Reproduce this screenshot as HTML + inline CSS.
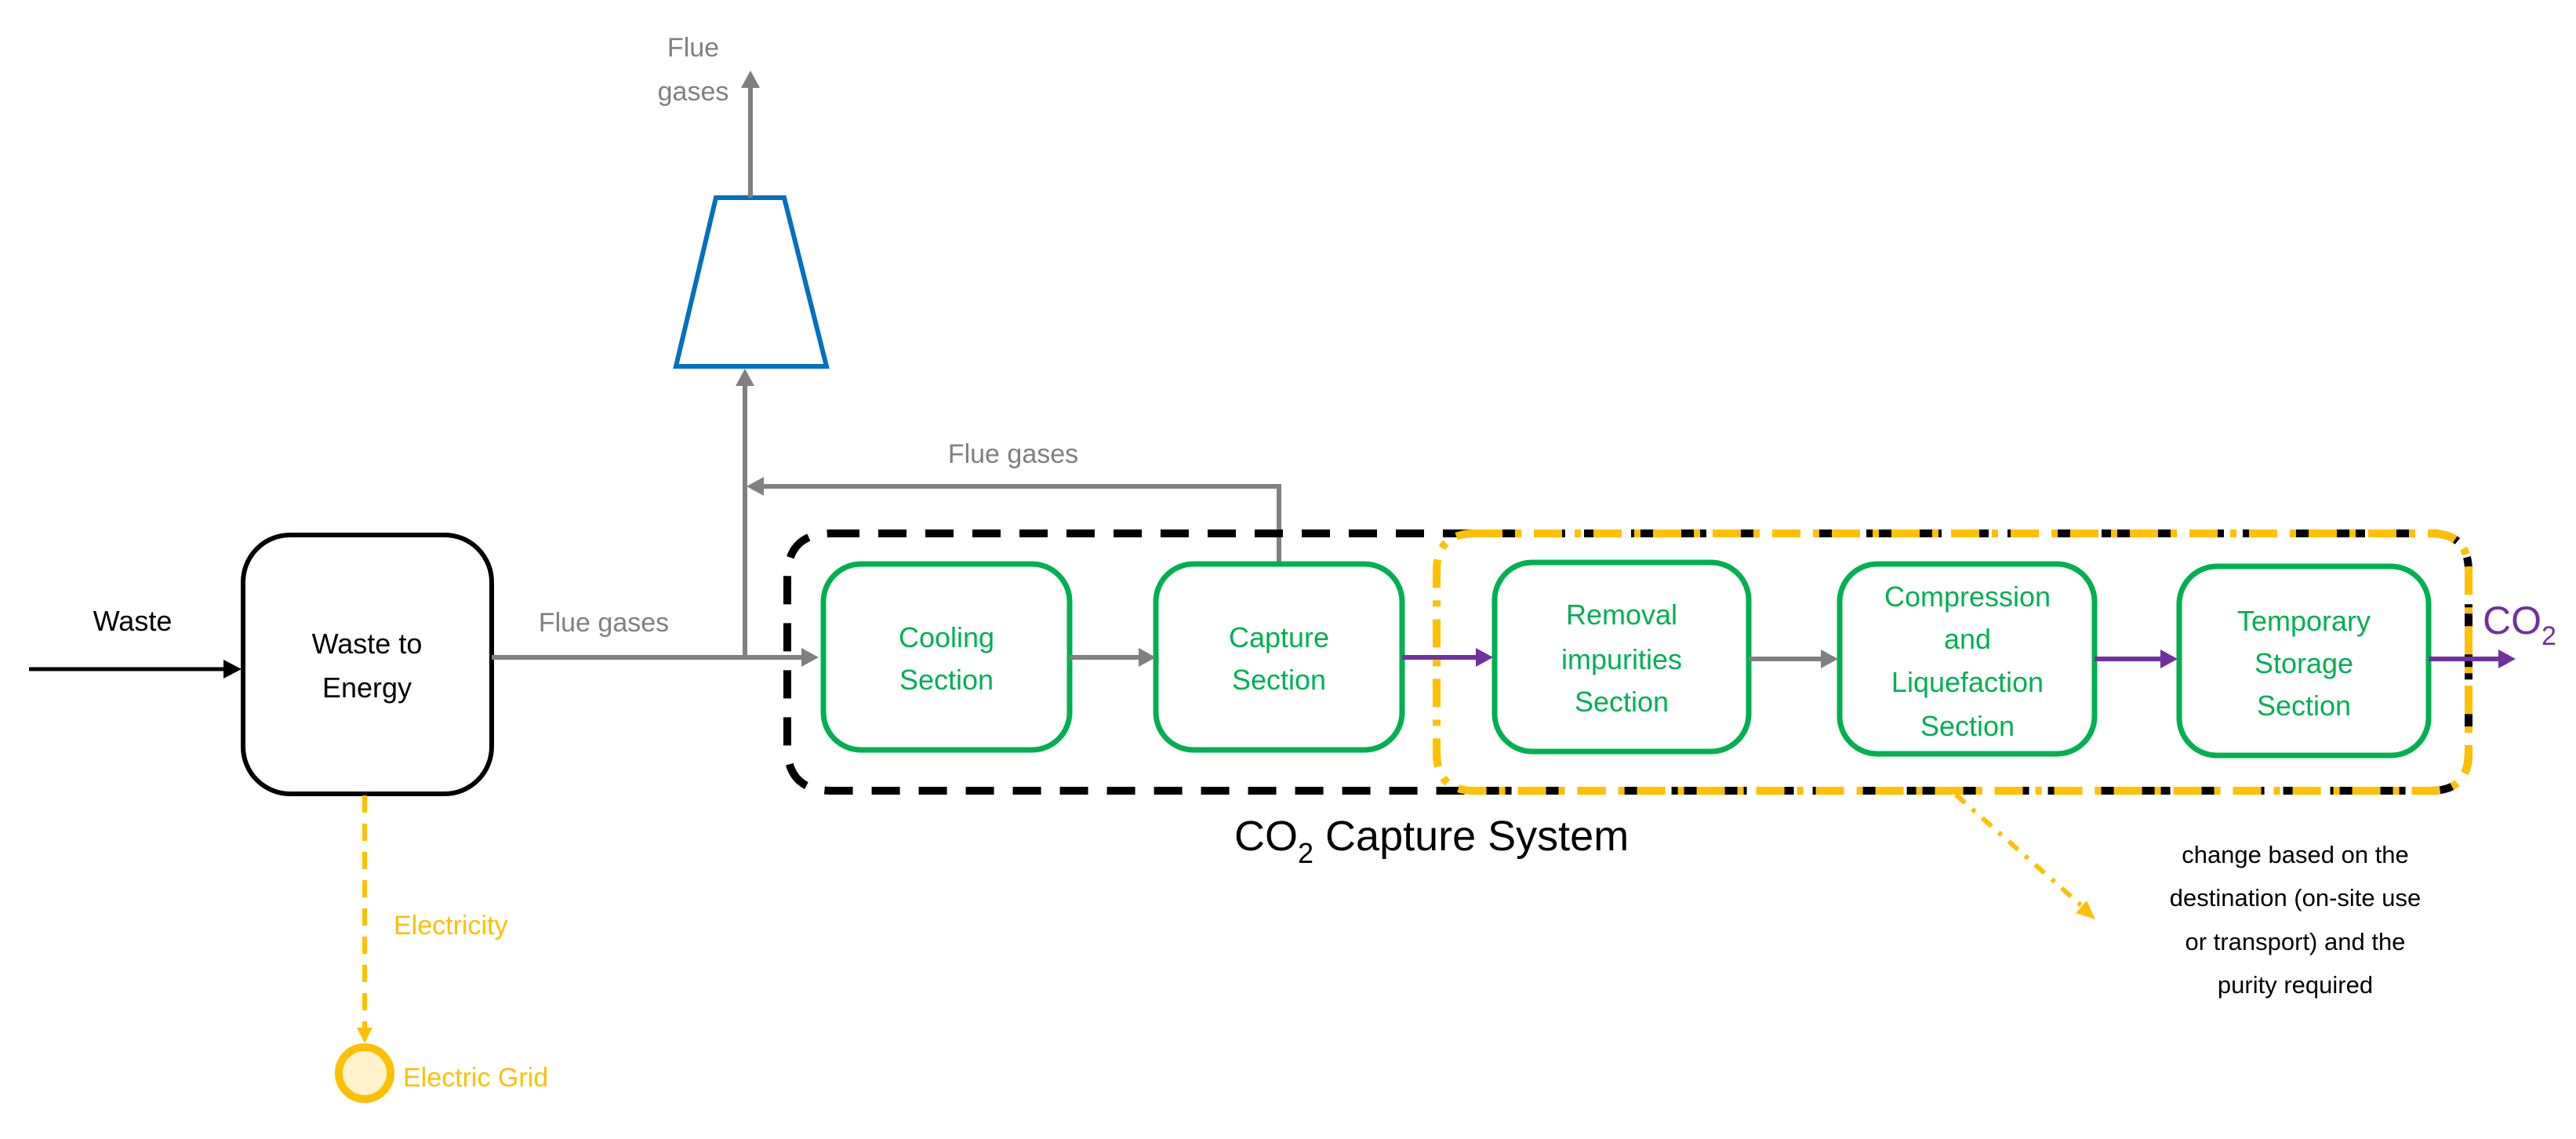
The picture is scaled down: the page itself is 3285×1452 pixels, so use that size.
<!DOCTYPE html>
<html><head><meta charset="utf-8"><style>
html,body{margin:0;padding:0;background:#fff;}
svg{display:block;}
text{font-family:"Liberation Sans",sans-serif;}
</style></head><body>
<svg width="3285" height="1452" viewBox="0 0 3285 1452" xmlns="http://www.w3.org/2000/svg">
<defs>
<marker id="ak" markerWidth="8" markerHeight="8" refX="7" refY="4" orient="auto" markerUnits="userSpaceOnUse" viewBox="0 0 8 8"><path d="M0,0 L8,4 L0,8z" fill="#000"/></marker>
</defs>
<!-- Waste arrow -->
<line x1="37" y1="853" x2="290" y2="853" stroke="#000" stroke-width="5"/>
<path d="M308,853 L285,841 L285,865z" fill="#000"/>
<text x="169" y="804" font-size="36" text-anchor="middle" fill="#000">Waste</text>
<!-- WtE box -->
<rect x="310" y="682" width="317" height="330" rx="60" fill="#fff" stroke="#000" stroke-width="6"/>
<text x="468" y="833" font-size="36" text-anchor="middle" fill="#000">Waste to</text>
<text x="468" y="889" font-size="36" text-anchor="middle" fill="#000">Energy</text>
<!-- main flue line -->
<line x1="627" y1="838" x2="1025" y2="838" stroke="#808080" stroke-width="6"/>
<path d="M1044,838 L1022,826 L1022,850z" fill="#808080"/>
<text x="770" y="805" font-size="34" text-anchor="middle" fill="#808080">Flue gases</text>
<!-- vertical to stack -->
<line x1="950" y1="838" x2="950" y2="490" stroke="#808080" stroke-width="6"/>
<path d="M950,470 L938,492 L962,492z" fill="#808080"/>
<!-- trapezoid -->
<path d="M913,252 L1000,252 L1054,467 L862,467 Z" fill="#fff" stroke="#0070C0" stroke-width="6"/>
<line x1="957" y1="252" x2="957" y2="110" stroke="#808080" stroke-width="6"/>
<path d="M957,90 L945,112 L969,112z" fill="#808080"/>
<text x="884" y="72" font-size="34" text-anchor="middle" fill="#808080">Flue</text>
<text x="884" y="128" font-size="34" text-anchor="middle" fill="#808080">gases</text>
<!-- return line -->
<polyline points="1631,720 1631,620 972,620" fill="none" stroke="#808080" stroke-width="6"/>
<path d="M952,620 L974,608 L974,632z" fill="#808080"/>
<text x="1292" y="590" font-size="34" text-anchor="middle" fill="#808080">Flue gases</text>
<!-- black dashed box -->
<path d="M1060,680 L3100,680 Q3148,680 3148,728 L3148,960 Q3148,1008 3100,1008 L1060,1008 Q1004,1008 1004,952 L1004,736 Q1004,680 1060,680 Z" fill="none" stroke="#000" stroke-width="10" stroke-dasharray="36,24"/>
<!-- yellow dash-dot box -->
<path d="M1880,680 L3100,680 Q3148,680 3148,728 L3148,960 Q3148,1008 3100,1008 L1880,1008 Q1832,1008 1832,960 L1832,728 Q1832,680 1880,680 Z" fill="none" stroke="#FFC000" stroke-width="10" stroke-dasharray="36,16,8,16"/>
<!-- green boxes -->
<g fill="#fff" stroke="#00B050" stroke-width="7">
<rect x="1050" y="719" width="314" height="237" rx="48"/>
<rect x="1474" y="719" width="314" height="237" rx="48"/>
<rect x="1906" y="717" width="324" height="241" rx="48"/>
<rect x="2346" y="719" width="325" height="242" rx="48"/>
<rect x="2779" y="722" width="318" height="241" rx="48"/>
</g>
<g fill="#00B050" font-size="36" text-anchor="middle">
<text x="1207" y="825">Cooling</text><text x="1207" y="879">Section</text>
<text x="1631" y="825">Capture</text><text x="1631" y="879">Section</text>
<text x="2068" y="796">Removal</text><text x="2068" y="853">impurities</text><text x="2068" y="907">Section</text>
<text x="2509" y="773">Compression</text><text x="2509" y="827">and</text><text x="2509" y="882">Liquefaction</text><text x="2509" y="938">Section</text>
<text x="2938" y="804">Temporary</text><text x="2938" y="858">Storage</text><text x="2938" y="912">Section</text>
</g>
<!-- arrows between -->
<line x1="1364" y1="838" x2="1455" y2="838" stroke="#808080" stroke-width="6"/>
<path d="M1474,838 L1452,826 L1452,850z" fill="#808080"/>
<line x1="1788" y1="838" x2="1885" y2="838" stroke="#7030A0" stroke-width="6"/>
<path d="M1904,838 L1882,826 L1882,850z" fill="#7030A0"/>
<line x1="2230" y1="840" x2="2325" y2="840" stroke="#808080" stroke-width="6"/>
<path d="M2344,840 L2322,828 L2322,852z" fill="#808080"/>
<line x1="2671" y1="840" x2="2758" y2="840" stroke="#7030A0" stroke-width="6"/>
<path d="M2777,840 L2755,828 L2755,852z" fill="#7030A0"/>
<line x1="3097" y1="840" x2="3188" y2="840" stroke="#7030A0" stroke-width="6"/>
<path d="M3208,840 L3186,828 L3186,852z" fill="#7030A0"/>
<text x="3166" y="808" font-size="50" fill="#7030A0">CO<tspan font-size="34" dy="14">2</tspan></text>
<!-- CO2 capture system label -->
<text x="1574" y="1084" font-size="54" fill="#000">CO<tspan font-size="36" dy="16">2</tspan><tspan dy="-16"> Capture System</tspan></text>
<!-- yellow pointer -->
<line x1="2494" y1="1013" x2="2655" y2="1155" stroke="#FFC000" stroke-width="6" stroke-dasharray="16,12,5,12"/>
<path d="M2672,1172 L2647,1164 L2661,1148z" fill="#FFC000"/>
<g font-size="31" text-anchor="middle" fill="#000">
<text x="2927" y="1100">change based on the</text>
<text x="2927" y="1155">destination (on-site use</text>
<text x="2927" y="1211">or transport) and the</text>
<text x="2927" y="1266">purity required</text>
</g>
<!-- electricity -->
<line x1="465" y1="1014" x2="465" y2="1310" stroke="#FFC000" stroke-width="6" stroke-dasharray="22,14"/>
<path d="M465,1330 L455,1310 L475,1310z" fill="#FFC000"/>
<text x="502" y="1191" font-size="34" fill="#FFC000">Electricity</text>
<circle cx="465" cy="1368" r="33" fill="#FFF2CC" stroke="#FFC000" stroke-width="10"/>
<text x="514" y="1385" font-size="34" fill="#FFC000">Electric Grid</text>
</svg>
</body></html>
